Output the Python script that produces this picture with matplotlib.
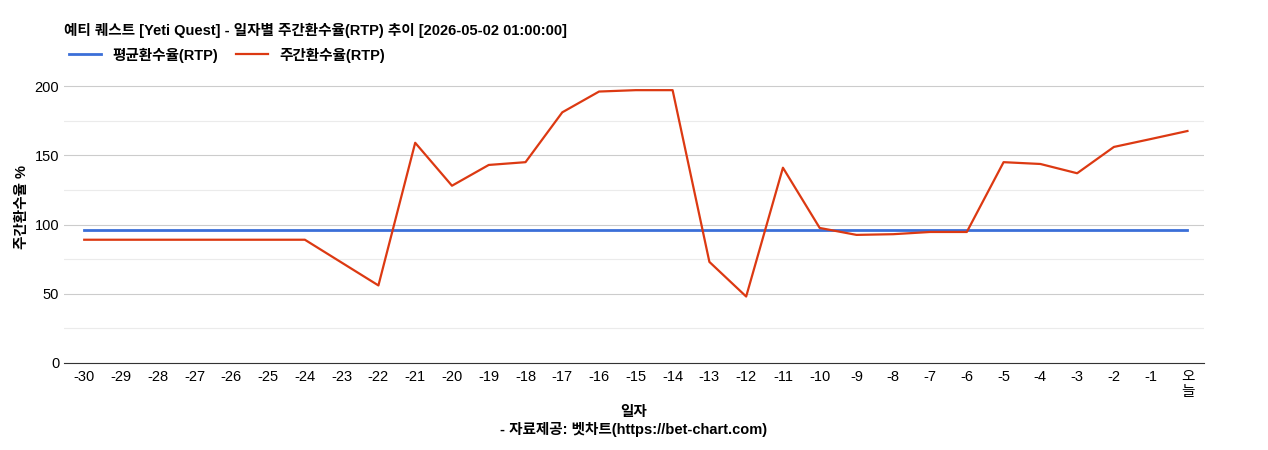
import matplotlib.pyplot as plt

plt.rcParams['font.family'] = ['Liberation Sans', 'Noto Sans CJK KR', 'DejaVu Sans']

days = [str(d) for d in range(-30, 0)] + ["오\n늘"]
rtp_weekly = [89, 89, 89, 89, 89, 89, 89, 72.5, 56, 159, 128, 143, 145, 181, 196, 197, 197,
              73, 48, 141, 97.5, 92.5, 93, 94.6, 94.6, 145, 143.7, 137, 156, 161.7, 167.5]
rtp_avg = [96] * len(days)

fig = plt.figure(figsize=(12.68, 4.5), dpi=100)
top = 363 - 225 * 277 / 200
ax = fig.add_axes([64 / 1268, 1 - 363 / 450, 1140 / 1268, (363 - top) / 450])
x = list(range(len(days)))
ax.plot(x, rtp_avg, color="#3b6fd8", linewidth=2, label="평균환수율(RTP)")
ax.plot(x, rtp_weekly, color="#dc3912", linewidth=1.6, label="주간환수율(RTP)")

ax.set_xlim(-0.55, len(days) - 0.55)
ax.set_ylim(0, 225)
ax.set_xticks(x)
ax.set_xticklabels(days, fontsize=10.5, linespacing=1.1)
ax.set_yticks([0, 50, 100, 150, 200])
ax.set_yticks([25, 75, 125, 175], minor=True)
ax.tick_params(axis="y", which="both", length=0, labelsize=10.5)
ax.tick_params(axis="x", length=0, pad=5)
ax.grid(axis="y", which="major", color="#cccccc", linewidth=0.8)
ax.grid(axis="y", which="minor", color="#ebebeb", linewidth=0.8)
for s in ["top", "right", "left"]:
    ax.spines[s].set_visible(False)
ax.spines["bottom"].set_color("#333333")
ax.set_ylabel("주간환수율 %", fontsize=10.5, fontweight="bold")
ax.set_xlabel("일자\n- 자료제공: 벳차트(https://bet-chart.com)", fontsize=10.5, fontweight="bold",
              linespacing=1.3, labelpad=4)

fig.text(64 / 1268, 1 - 30 / 450, "예티 퀘스트 [Yeti Quest] - 일자별 주간환수율(RTP) 추이 [2026-05-02 01:00:00]",
         fontsize=10.5, fontweight="bold", va="center")
fig.legend(loc="center left", bbox_to_anchor=(56 / 1268, 1 - 55 / 450), ncol=2, frameon=False,
           prop={"weight": "bold", "size": 10.5}, handlelength=2.2, columnspacing=1.2)

fig.savefig("out.png")
